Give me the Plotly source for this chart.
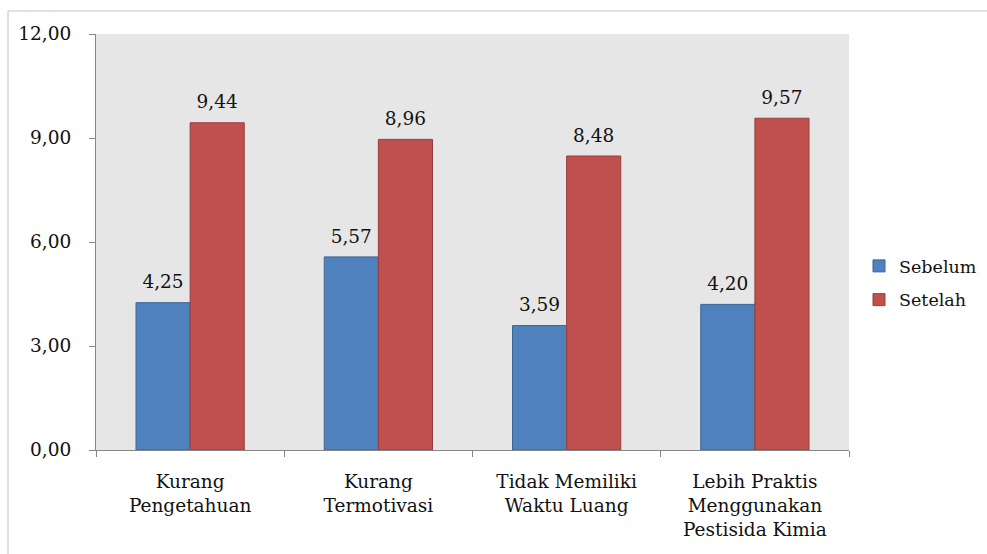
import plotly.graph_objects as go

categories = ["Kurang<br>Pengetahuan", "Kurang<br>Termotivasi", "Tidak Memiliki<br>Waktu Luang",
              "Lebih Praktis<br>Menggunakan<br>Pestisida Kimia"]
sebelum = [4.25, 5.57, 3.59, 4.20]
setelah = [9.44, 8.96, 8.48, 9.57]
y_ticks = [0, 3, 6, 9, 12]

def fmt(v):
    return f"{v:.2f}".replace(".", ",")

FONT = "DejaVu Serif"
FS = 18.5

fig = go.Figure()
fig.add_trace(go.Bar(
    x=categories, y=sebelum, name="Sebelum", legendgroup="a",
    marker=dict(color="#4F81BD", line=dict(color="#3B6596", width=1)),
    hoverinfo="skip",
))
fig.add_trace(go.Bar(
    x=categories, y=setelah, name="Setelah", legendgroup="b",
    marker=dict(color="#C0504D", line=dict(color="#963E3B", width=1)),
    hoverinfo="skip",
))
for vals in (sebelum, setelah):
    fig.add_trace(go.Scatter(
        x=categories, y=vals, mode="markers+text", showlegend=False,
        marker=dict(size=14, opacity=0), text=[fmt(v) for v in vals],
        textposition="top center", textfont=dict(family=FONT, size=FS, color="#111"),
        cliponaxis=False, hoverinfo="skip",
    ))

L, R, T, B = 96, 138, 34, 104
W, H = 987, 554
pw, ph = W - L - R, H - T - B

def px_x(px):
    return (px - L) / pw

def px_y(py):
    return (H - B - py) / ph

fig.update_layout(
    width=W, height=H,
    margin=dict(l=L, r=R, t=T, b=B, pad=0, autoexpand=False),
    paper_bgcolor="white", plot_bgcolor="#E6E6E6",
    barmode="group", bargap=0.425, bargroupgap=0,
    scattermode="group", scattergap=0.425,
    separators=",.",
    font=dict(family=FONT, size=FS, color="#111"),
    showlegend=True,
    legend=dict(x=px_x(859), xanchor="left", y=px_y(283), yanchor="middle",
                font=dict(family=FONT, size=17.5, color="#111"),
                bgcolor="rgba(0,0,0,0)", traceorder="grouped", tracegroupgap=8),
    xaxis=dict(showgrid=False, showline=True, linecolor="#868686", linewidth=1,
               ticks="outside", ticklen=6, tickcolor="#868686", tickson="boundaries",
               ticklabelstandoff=15, automargin=False,
               tickfont=dict(family=FONT, size=FS, color="#111")),
    yaxis=dict(range=[0, 12], tickvals=y_ticks, tickformat=".2f", showgrid=False,
               showline=True, linecolor="#868686", linewidth=1, zeroline=False,
               ticks="outside", ticklen=6, tickcolor="#868686", ticklabelstandoff=14,
               automargin=False,
               tickfont=dict(family=FONT, size=FS, color="#111")),
    shapes=[
        dict(type="line", xref="paper", yref="paper", x0=px_x(8), x1=px_x(1000),
             y0=px_y(11), y1=px_y(11), line=dict(color="#C4C4C4", width=1)),
        dict(type="line", xref="paper", yref="paper", x0=px_x(8), x1=px_x(8),
             y0=px_y(11), y1=px_y(560), line=dict(color="#C4C4C4", width=1)),
    ],
)

fig.write_html("out.html")
